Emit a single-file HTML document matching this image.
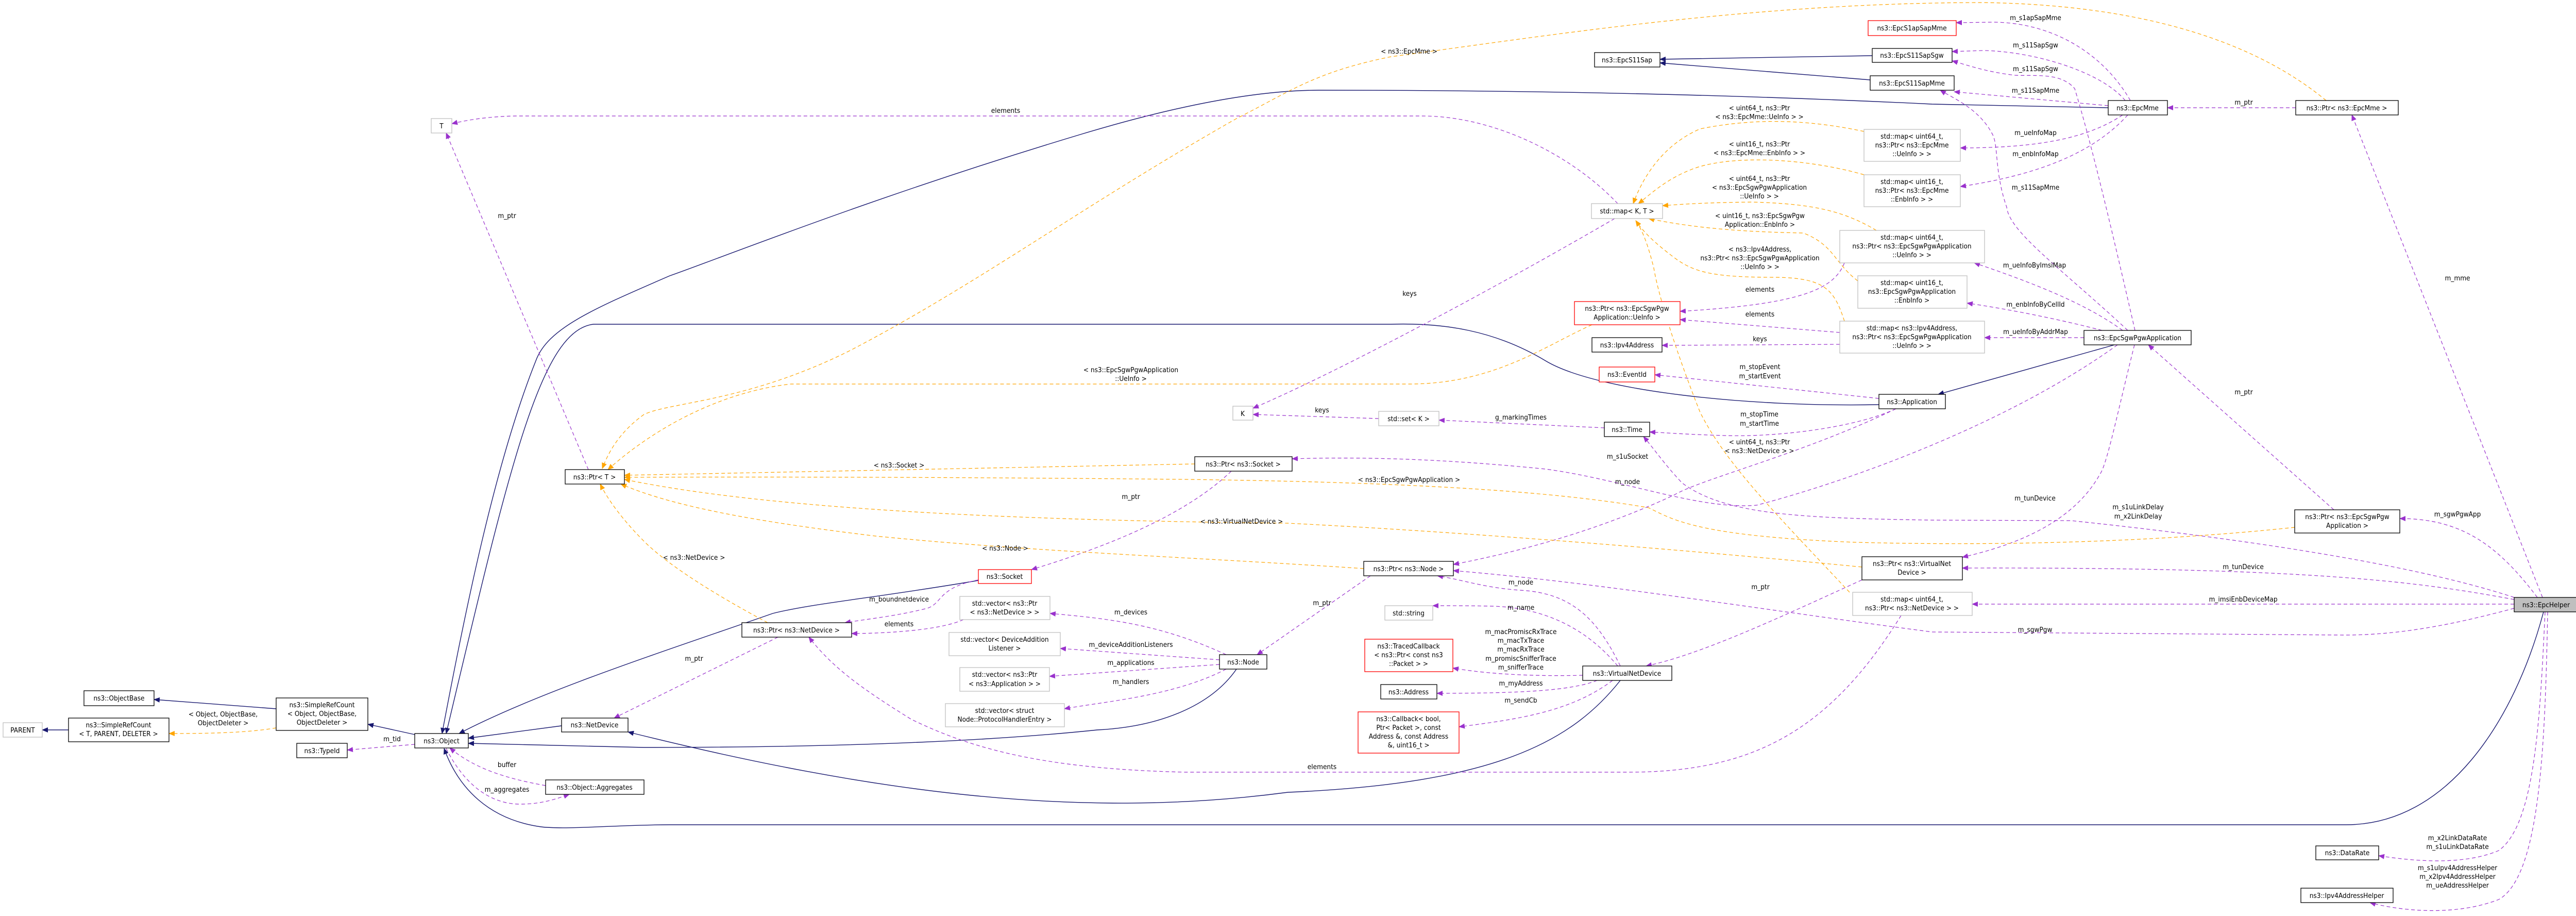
<!DOCTYPE html>
<html><head><meta charset="utf-8">
<style>
html,body{margin:0;padding:0;background:#fff;}
svg{display:block;}
text{font-family:"DejaVu Sans Condensed","DejaVu Sans","Liberation Sans",sans-serif;font-size:13.5px;fill:#000;}
.n{fill:#fff;stroke:#000;stroke-width:1.3;}
.g{fill:#fff;stroke:#bfbfbf;stroke-width:1.3;}
.r{fill:#fff;stroke:#ff0000;stroke-width:1.3;}
.h{fill:#bfbfbf;stroke:#000;stroke-width:1.3;}
.i{fill:none;stroke:#191970;stroke-width:1.4;}
.u{fill:none;stroke:#9a32cd;stroke-width:1.2;stroke-dasharray:7,5;}
.t{fill:none;stroke:#ffa500;stroke-width:1.2;stroke-dasharray:7,5;}
</style></head><body>
<svg width="5011" height="1777" viewBox="0 0 5011 1777" xmlns="http://www.w3.org/2000/svg">
<defs>
<marker id="ai" markerWidth="12" markerHeight="10" refX="11" refY="5" orient="auto" markerUnits="userSpaceOnUse"><path d="M0,0 L12,5 L0,10 z" fill="#191970"/></marker>
<marker id="au" markerWidth="12" markerHeight="10" refX="11" refY="5" orient="auto" markerUnits="userSpaceOnUse"><path d="M0,0 L12,5 L0,10 z" fill="#9a32cd"/></marker>
<marker id="at" markerWidth="12" markerHeight="10" refX="11" refY="5" orient="auto" markerUnits="userSpaceOnUse"><path d="M0,0 L12,5 L0,10 z" fill="#ffa500"/></marker>
</defs>

<!-- inheritance edges -->
<g marker-end="url(#ai)">
<path class="i" d="M133,1416 L82,1416"/>
<path class="i" d="M536,1375 L299,1357"/>
<path class="i" d="M805,1425 L714,1405"/>
<path class="i" d="M1090,1408 L909,1432"/>
<path class="i" d="M2400,1298 C2350,1370 2250,1410 2130,1416 C1900,1440 1600,1450 1250,1450 L909,1442"/>
<path class="i" d="M1899,1126 C1700,1160 1580,1170 1500,1190 C1300,1260 1050,1340 891,1423"/>
<path class="i" d="M3145,1320 C3050,1440 2900,1520 2500,1537 C2100,1590 1700,1540 1219,1420"/>
<path class="i" d="M3647,785 C3400,790 3100,760 3000,700 C2900,640 2800,626 2700,629 L1152,629 C1050,640 990,900 866,1423"/>
<path class="i" d="M4092,209 L3750,202 C3400,185 3000,175 2560,175 C2450,175 2300,200 2100,260 C1700,380 1400,500 1300,535 C1150,600 1063,637 1040,700 C960,900 900,1200 858,1423"/>
<path class="i" d="M4104,669 L3762,765"/>
<path class="i" d="M3634,108 L3222,115"/>
<path class="i" d="M3630,155 L3222,122"/>
<path class="i" d="M4937,1187 C4880,1400 4750,1600 4554,1600 L1300,1600 C1200,1600 1100,1610 1050,1604 C950,1590 890,1530 862,1452"/>
</g>

<!-- usage edges -->
<g marker-end="url(#au)">
<path class="u" d="M1142,911 L866,258"/>
<path class="u" d="M3140,395 C3050,300 2900,225 2760,225 L1000,225 C950,226 910,232 877,240"/>
<path class="u" d="M3134,424 C2900,560 2600,720 2432,792"/>
<path class="u" d="M2676,812 L2432,804"/>
<path class="u" d="M3114,830 L2793,815"/>
<path class="u" d="M805,1444 L674,1455"/>
<path class="u" d="M1059,1524 C980,1510 920,1490 873,1451"/>
<path class="u" d="M866,1452 C900,1520 950,1560 1010,1560 C1050,1560 1080,1550 1105,1541"/>
<path class="u" d="M1899,1125 C1820,1140 1830,1170 1800,1180 C1740,1195 1690,1200 1640,1208"/>
<path class="u" d="M1870,1202 C1820,1225 1700,1229 1653,1229"/>
<path class="u" d="M1510,1236 L1192,1393"/>
<path class="u" d="M2390,914 C2300,1000 2150,1060 2002,1105"/>
<path class="u" d="M2380,1270 C2250,1210 2150,1200 2038,1190"/>
<path class="u" d="M2367,1280 L2058,1258"/>
<path class="u" d="M2367,1289 L2037,1312"/>
<path class="u" d="M2380,1298 C2280,1350 2150,1360 2066,1375"/>
<path class="u" d="M2660,1117 L2440,1270"/>
<path class="u" d="M3145,1292 C3100,1200 3050,1150 2950,1145 C2880,1140 2840,1125 2790,1117"/>
<path class="u" d="M3140,1292 C3080,1220 3000,1180 2900,1176 C2850,1175 2820,1175 2781,1175"/>
<path class="u" d="M3072,1310 C3000,1312 2900,1310 2820,1296"/>
<path class="u" d="M3100,1320 C3050,1340 2950,1345 2789,1345"/>
<path class="u" d="M3130,1320 C3050,1380 2950,1395 2832,1410"/>
<path class="u" d="M3614,1125 C3450,1200 3300,1270 3195,1292"/>
<path class="u" d="M3690,1194 C3550,1420 3400,1498 3160,1498 L2300,1498 C2050,1492 1900,1460 1768,1395 C1680,1340 1620,1300 1570,1236"/>
<path class="u" d="M4110,669 C3900,820 3600,930 3410,980 C3300,990 3150,930 3000,910 C2800,890 2650,886 2508,890"/>
<path class="u" d="M3680,793 C3500,880 3300,930 3250,960 C3100,1030 2950,1070 2821,1095"/>
<path class="u" d="M4045,655 L3852,655"/>
<path class="u" d="M4080,641 C4000,620 3900,600 3818,588"/>
<path class="u" d="M4120,641 C4050,590 3950,550 3832,510"/>
<path class="u" d="M4130,641 C4000,520 3900,450 3895,402 C3870,330 3880,280 3866,258 C3840,210 3790,190 3766,175"/>
<path class="u" d="M4144,641 C4100,450 4060,280 4027,172 C4000,140 3950,148 3911,146 C3860,140 3830,130 3789,118"/>
<path class="u" d="M3571,668 L3226,670"/>
<path class="u" d="M3571,645 L3261,620"/>
<path class="u" d="M3580,510 C3560,560 3500,590 3261,604"/>
<path class="u" d="M3647,773 L3212,727"/>
<path class="u" d="M3680,793 C3600,830 3450,848 3350,845 C3280,843 3240,840 3202,838"/>
<path class="u" d="M4135,195 C4080,100 3980,44 3870,43 L3797,44"/>
<path class="u" d="M4125,195 C4080,140 3950,100 3850,98 L3789,100"/>
<path class="u" d="M4092,205 L3793,178"/>
<path class="u" d="M4120,223 C4050,270 3950,287 3805,287"/>
<path class="u" d="M4130,223 C4060,300 3950,340 3805,362"/>
<path class="u" d="M4456,209 L4207,209"/>
<path class="u" d="M4935,1159 L4565,223"/>
<path class="u" d="M4925,1159 C4850,1060 4780,1006 4658,1006"/>
<path class="u" d="M4530,989 L4170,669"/>
<path class="u" d="M4880,1163 C4700,1130 4500,1100 3809,1102"/>
<path class="u" d="M4143,669 C4110,800 4090,900 4076,920 C4020,1020 3900,1060 3809,1081"/>
<path class="u" d="M4880,1172 L3828,1172"/>
<path class="u" d="M4880,1180 C4750,1215 4650,1232 4550,1232 L3750,1226 C3400,1180 3100,1130 2821,1107"/>
<path class="u" d="M4880,1159 C4700,1100 4400,1050 4020,1010 L3750,1009 C3500,1005 3350,1000 3265,937 C3230,900 3210,870 3190,847"/>
<path class="u" d="M4940,1187 C4930,1400 4920,1600 4850,1650 C4780,1680 4680,1670 4617,1660"/>
<path class="u" d="M4945,1187 C4940,1450 4930,1700 4850,1745 C4760,1780 4650,1765 4600,1751"/>
</g>

<!-- template edges -->
<g marker-end="url(#at)">
<path class="t" d="M2319,900 L1212,922"/>
<path class="t" d="M3614,1100 C3200,1060 2800,1030 2500,1015 C2000,1010 1500,990 1212,930"/>
<path class="t" d="M2647,1103 C2300,1080 2000,1070 1700,1040 C1450,1010 1300,980 1205,939"/>
<path class="t" d="M1490,1208 C1400,1160 1300,1100 1250,1050 C1210,1010 1180,970 1165,939"/>
<path class="t" d="M4454,1023 C4200,1050 3900,1060 3600,1052 C3300,1040 3250,1010 3200,985 C3000,950 2700,935 2300,930 C1800,925 1400,925 1212,926"/>
<path class="t" d="M4515,195 C4400,100 4200,10 3850,5 C3400,5 3000,70 2700,110 C2550,140 2500,180 2400,230 C2100,400 1900,550 1650,680 C1450,780 1300,780 1250,804 C1200,840 1180,880 1169,909"/>
<path class="t" d="M3090,630 C3000,670 2900,745 2735,745 L1535,745 C1400,760 1270,830 1180,911"/>
<path class="t" d="M536,1412 C480,1422 400,1423 328,1423"/>
<path class="t" d="M3618,255 C3500,230 3400,230 3300,250 C3230,280 3190,340 3170,395"/>
<path class="t" d="M3618,339 C3500,305 3350,300 3280,330 C3230,350 3200,380 3180,395"/>
<path class="t" d="M3642,447 C3580,410 3520,395 3400,392 C3320,393 3280,395 3227,399"/>
<path class="t" d="M3606,545 C3560,510 3560,475 3500,452 C3400,450 3300,445 3200,424"/>
<path class="t" d="M3580,623 C3560,560 3540,540 3450,538 C3330,538 3290,530 3250,500 C3210,470 3190,450 3175,428"/>
<path class="t" d="M3590,1149 C3450,1000 3350,900 3300,800 C3260,700 3220,580 3210,520 C3200,480 3190,450 3175,428"/>
</g>

<!-- nodes -->
<g>
<rect class="g" x="837" y="230" width="40" height="28"/><text x="857" y="249" text-anchor="middle">T</text>
<rect class="g" x="2393" y="788" width="39" height="27"/><text x="2412" y="807" text-anchor="middle">K</text>
<rect class="g" x="6" y="1402" width="76" height="28"/><text x="44" y="1421" text-anchor="middle">PARENT</text>
<rect class="n" x="133" y="1393" width="195" height="46"/><text x="230" y="1411" text-anchor="middle">ns3::SimpleRefCount</text><text x="230" y="1428" text-anchor="middle">&lt; T, PARENT, DELETER &gt;</text>
<rect class="n" x="163" y="1340" width="136" height="29"/><text x="231" y="1359" text-anchor="middle">ns3::ObjectBase</text>
<rect class="n" x="536" y="1354" width="178" height="63"/><text x="625" y="1372" text-anchor="middle">ns3::SimpleRefCount</text><text x="625" y="1389" text-anchor="middle">&lt; Object, ObjectBase,</text><text x="625" y="1406" text-anchor="middle">ObjectDeleter &gt;</text>
<rect class="n" x="576" y="1442" width="98" height="28"/><text x="625" y="1461" text-anchor="middle">ns3::TypeId</text>
<rect class="n" x="805" y="1423" width="104" height="28"/><text x="857" y="1442" text-anchor="middle">ns3::Object</text>
<rect class="n" x="1090" y="1393" width="129" height="27"/><text x="1154" y="1411" text-anchor="middle">ns3::NetDevice</text>
<rect class="n" x="1059" y="1513" width="191" height="28"/><text x="1154" y="1532" text-anchor="middle">ns3::Object::Aggregates</text>
<rect class="n" x="1097" y="911" width="115" height="28"/><text x="1154" y="930" text-anchor="middle">ns3::Ptr&lt; T &gt;</text>
<rect class="n" x="1440" y="1208" width="213" height="28"/><text x="1546" y="1227" text-anchor="middle">ns3::Ptr&lt; ns3::NetDevice &gt;</text>
<rect class="r" x="1899" y="1105" width="103" height="27"/><text x="1950" y="1123" text-anchor="middle">ns3::Socket</text>
<rect class="g" x="1863" y="1157" width="175" height="45"/><text x="1950" y="1175" text-anchor="middle">std::vector&lt; ns3::Ptr</text><text x="1950" y="1192" text-anchor="middle">&lt; ns3::NetDevice &gt; &gt;</text>
<rect class="g" x="1842" y="1227" width="216" height="45"/><text x="1950" y="1245" text-anchor="middle">std::vector&lt; DeviceAddition</text><text x="1950" y="1262" text-anchor="middle">Listener &gt;</text>
<rect class="g" x="1863" y="1295" width="174" height="46"/><text x="1950" y="1313" text-anchor="middle">std::vector&lt; ns3::Ptr</text><text x="1950" y="1331" text-anchor="middle">&lt; ns3::Application &gt; &gt;</text>
<rect class="g" x="1835" y="1365" width="231" height="45"/><text x="1950" y="1383" text-anchor="middle">std::vector&lt; struct</text><text x="1950" y="1400" text-anchor="middle">Node::ProtocolHandlerEntry &gt;</text>
<rect class="n" x="2367" y="1270" width="92" height="28"/><text x="2413" y="1289" text-anchor="middle">ns3::Node</text>
<rect class="n" x="2319" y="886" width="189" height="28"/><text x="2413" y="905" text-anchor="middle">ns3::Ptr&lt; ns3::Socket &gt;</text>
<rect class="g" x="2676" y="798" width="117" height="28"/><text x="2734" y="817" text-anchor="middle">std::set&lt; K &gt;</text>
<rect class="n" x="2647" y="1089" width="174" height="28"/><text x="2734" y="1108" text-anchor="middle">ns3::Ptr&lt; ns3::Node &gt;</text>
<rect class="g" x="2688" y="1175" width="93" height="28"/><text x="2734" y="1194" text-anchor="middle">std::string</text>
<rect class="r" x="2649" y="1240" width="171" height="63"/><text x="2734" y="1258" text-anchor="middle">ns3::TracedCallback</text><text x="2734" y="1275" text-anchor="middle">&lt; ns3::Ptr&lt; const ns3</text><text x="2734" y="1292" text-anchor="middle">::Packet &gt; &gt;</text>
<rect class="n" x="2680" y="1328" width="109" height="28"/><text x="2734" y="1347" text-anchor="middle">ns3::Address</text>
<rect class="r" x="2636" y="1381" width="196" height="80"/><text x="2734" y="1399" text-anchor="middle">ns3::Callback&lt; bool,</text><text x="2734" y="1416" text-anchor="middle">Ptr&lt; Packet &gt;, const</text><text x="2734" y="1433" text-anchor="middle">Address &amp;, const Address</text><text x="2734" y="1450" text-anchor="middle">&amp;, uint16_t &gt;</text>
<rect class="n" x="3072" y="1292" width="173" height="28"/><text x="3158" y="1311" text-anchor="middle">ns3::VirtualNetDevice</text>
<rect class="n" x="3095" y="102" width="127" height="28"/><text x="3158" y="121" text-anchor="middle">ns3::EpcS11Sap</text>
<rect class="g" x="3089" y="395" width="138" height="29"/><text x="3158" y="414" text-anchor="middle">std::map&lt; K, T &gt;</text>
<rect class="r" x="3056" y="585" width="205" height="45"/><text x="3158" y="603" text-anchor="middle">ns3::Ptr&lt; ns3::EpcSgwPgw</text><text x="3158" y="620" text-anchor="middle">Application::UeInfo &gt;</text>
<rect class="n" x="3090" y="655" width="136" height="28"/><text x="3158" y="674" text-anchor="middle">ns3::Ipv4Address</text>
<rect class="r" x="3104" y="712" width="108" height="29"/><text x="3158" y="731" text-anchor="middle">ns3::EventId</text>
<rect class="n" x="3114" y="819" width="88" height="28"/><text x="3158" y="838" text-anchor="middle">ns3::Time</text>
<rect class="r" x="3626" y="40" width="171" height="29"/><text x="3711" y="59" text-anchor="middle">ns3::EpcS1apSapMme</text>
<rect class="n" x="3634" y="94" width="155" height="27"/><text x="3711" y="112" text-anchor="middle">ns3::EpcS11SapSgw</text>
<rect class="n" x="3630" y="147" width="163" height="28"/><text x="3711" y="166" text-anchor="middle">ns3::EpcS11SapMme</text>
<rect class="g" x="3618" y="251" width="187" height="62"/><text x="3711" y="269" text-anchor="middle">std::map&lt; uint64_t,</text><text x="3711" y="286" text-anchor="middle">ns3::Ptr&lt; ns3::EpcMme</text><text x="3711" y="303" text-anchor="middle">::UeInfo &gt; &gt;</text>
<rect class="g" x="3618" y="339" width="187" height="62"/><text x="3711" y="357" text-anchor="middle">std::map&lt; uint16_t,</text><text x="3711" y="374" text-anchor="middle">ns3::Ptr&lt; ns3::EpcMme</text><text x="3711" y="391" text-anchor="middle">::EnbInfo &gt; &gt;</text>
<rect class="g" x="3571" y="447" width="281" height="63"/><text x="3711" y="465" text-anchor="middle">std::map&lt; uint64_t,</text><text x="3711" y="482" text-anchor="middle">ns3::Ptr&lt; ns3::EpcSgwPgwApplication</text><text x="3711" y="499" text-anchor="middle">::UeInfo &gt; &gt;</text>
<rect class="g" x="3606" y="535" width="212" height="63"/><text x="3711" y="553" text-anchor="middle">std::map&lt; uint16_t,</text><text x="3711" y="570" text-anchor="middle">ns3::EpcSgwPgwApplication</text><text x="3711" y="587" text-anchor="middle">::EnbInfo &gt;</text>
<rect class="g" x="3571" y="623" width="281" height="62"/><text x="3711" y="641" text-anchor="middle">std::map&lt; ns3::Ipv4Address,</text><text x="3711" y="658" text-anchor="middle">ns3::Ptr&lt; ns3::EpcSgwPgwApplication</text><text x="3711" y="675" text-anchor="middle">::UeInfo &gt; &gt;</text>
<rect class="n" x="3647" y="765" width="129" height="28"/><text x="3711" y="784" text-anchor="middle">ns3::Application</text>
<rect class="n" x="3614" y="1080" width="195" height="45"/><text x="3711" y="1098" text-anchor="middle">ns3::Ptr&lt; ns3::VirtualNet</text><text x="3711" y="1115" text-anchor="middle">Device &gt;</text>
<rect class="g" x="3596" y="1149" width="232" height="45"/><text x="3711" y="1167" text-anchor="middle">std::map&lt; uint64_t,</text><text x="3711" y="1184" text-anchor="middle">ns3::Ptr&lt; ns3::NetDevice &gt; &gt;</text>
<rect class="n" x="4092" y="195" width="115" height="28"/><text x="4149" y="214" text-anchor="middle">ns3::EpcMme</text>
<rect class="n" x="4456" y="195" width="199" height="28"/><text x="4555" y="214" text-anchor="middle">ns3::Ptr&lt; ns3::EpcMme &gt;</text>
<rect class="n" x="4045" y="641" width="208" height="28"/><text x="4149" y="660" text-anchor="middle">ns3::EpcSgwPgwApplication</text>
<rect class="n" x="4454" y="989" width="204" height="45"/><text x="4556" y="1007" text-anchor="middle">ns3::Ptr&lt; ns3::EpcSgwPgw</text><text x="4556" y="1024" text-anchor="middle">Application &gt;</text>
<rect class="h" x="4880" y="1159" width="125" height="28"/><text x="4942" y="1178" text-anchor="middle">ns3::EpcHelper</text>
<rect class="n" x="4495" y="1641" width="122" height="27"/><text x="4556" y="1659" text-anchor="middle">ns3::DataRate</text>
<rect class="n" x="4466" y="1723" width="179" height="28"/><text x="4555" y="1742" text-anchor="middle">ns3::Ipv4AddressHelper</text>
</g>

<!-- edge labels -->
<g text-anchor="middle">
<text x="984" y="423">m_ptr</text>
<text x="1952" y="219">elements</text>
<text x="2735" y="104">&lt; ns3::EpcMme &gt;</text>
<text x="2195" y="722">&lt; ns3::EpcSgwPgwApplication</text><text x="2195" y="739">::UeInfo &gt;</text>
<text x="433" y="1390">&lt; Object, ObjectBase,</text><text x="433" y="1407">ObjectDeleter &gt;</text>
<text x="761" y="1438">m_tid</text>
<text x="984" y="1488">buffer</text>
<text x="984" y="1536">m_aggregates</text>
<text x="1745" y="907">&lt; ns3::Socket &gt;</text>
<text x="2195" y="968">m_ptr</text>
<text x="2410" y="1016">&lt; ns3::VirtualNetDevice &gt;</text>
<text x="1951" y="1068">&lt; ns3::Node &gt;</text>
<text x="1347" y="1086">&lt; ns3::NetDevice &gt;</text>
<text x="1745" y="1167">m_boundnetdevice</text>
<text x="1745" y="1215">elements</text>
<text x="1347" y="1282">m_ptr</text>
<text x="2195" y="1192">m_devices</text>
<text x="2195" y="1255">m_deviceAdditionListeners</text>
<text x="2195" y="1290">m_applications</text>
<text x="2195" y="1327">m_handlers</text>
<text x="3415" y="214">&lt; uint64_t, ns3::Ptr</text><text x="3415" y="231">&lt; ns3::EpcMme::UeInfo &gt; &gt;</text>
<text x="3415" y="284">&lt; uint16_t, ns3::Ptr</text><text x="3415" y="301">&lt; ns3::EpcMme::EnbInfo &gt; &gt;</text>
<text x="3415" y="351">&lt; uint64_t, ns3::Ptr</text><text x="3415" y="368">&lt; ns3::EpcSgwPgwApplication</text><text x="3415" y="385">::UeInfo &gt; &gt;</text>
<text x="3416" y="423">&lt; uint16_t, ns3::EpcSgwPgw</text><text x="3416" y="440">Application::EnbInfo &gt;</text>
<text x="3416" y="488">&lt; ns3::Ipv4Address,</text><text x="3416" y="505">ns3::Ptr&lt; ns3::EpcSgwPgwApplication</text><text x="3416" y="522">::UeInfo &gt; &gt;</text>
<text x="3416" y="566">elements</text>
<text x="3416" y="614">elements</text>
<text x="3416" y="662">keys</text>
<text x="3416" y="716">m_stopEvent</text><text x="3416" y="734">m_startEvent</text>
<text x="3415" y="808">m_stopTime</text><text x="3415" y="826">m_startTime</text>
<text x="3415" y="862">&lt; uint64_t, ns3::Ptr</text><text x="3415" y="879">&lt; ns3::NetDevice &gt; &gt;</text>
<text x="2736" y="574">keys</text>
<text x="2566" y="800">keys</text>
<text x="2952" y="814">g_markingTimes</text>
<text x="3159" y="890">m_s1uSocket</text>
<text x="2735" y="935">&lt; ns3::EpcSgwPgwApplication &gt;</text>
<text x="3159" y="939">m_node</text>
<text x="2952" y="1134">m_node</text>
<text x="2566" y="1174">m_ptr</text>
<text x="3417" y="1143">m_ptr</text>
<text x="2952" y="1183">m_name</text>
<text x="2952" y="1230">m_macPromiscRxTrace</text><text x="2952" y="1247">m_macTxTrace</text><text x="2952" y="1264">m_macRxTrace</text><text x="2952" y="1282">m_promiscSnifferTrace</text><text x="2952" y="1299">m_snifferTrace</text>
<text x="2952" y="1330">m_myAddress</text>
<text x="2952" y="1363">m_sendCb</text>
<text x="2566" y="1492">elements</text>
<text x="3951" y="39">m_s1apSapMme</text>
<text x="3951" y="92">m_s11SapSgw</text>
<text x="3951" y="138">m_s11SapSgw</text>
<text x="3951" y="180">m_s11SapMme</text>
<text x="4355" y="203">m_ptr</text>
<text x="3951" y="262">m_ueInfoMap</text>
<text x="3951" y="303">m_enbInfoMap</text>
<text x="3951" y="368">m_s11SapMme</text>
<text x="3949" y="519">m_ueInfoByImsiMap</text>
<text x="3951" y="595">m_enbInfoByCellId</text>
<text x="3951" y="648">m_ueInfoByAddrMap</text>
<text x="4355" y="765">m_ptr</text>
<text x="4770" y="544">m_mme</text>
<text x="3950" y="971">m_tunDevice</text>
<text x="4150" y="988">m_s1uLinkDelay</text><text x="4150" y="1006">m_x2LinkDelay</text>
<text x="4770" y="1002">m_sgwPgwApp</text>
<text x="4354" y="1104">m_tunDevice</text>
<text x="4354" y="1167">m_imsiEnbDeviceMap</text>
<text x="3950" y="1226">m_sgwPgw</text>
<text x="4770" y="1630">m_x2LinkDataRate</text><text x="4770" y="1647">m_s1uLinkDataRate</text>
<text x="4770" y="1688">m_s1uIpv4AddressHelper</text><text x="4770" y="1705">m_x2Ipv4AddressHelper</text><text x="4770" y="1722">m_ueAddressHelper</text>
</g>
</svg>
</body></html>
